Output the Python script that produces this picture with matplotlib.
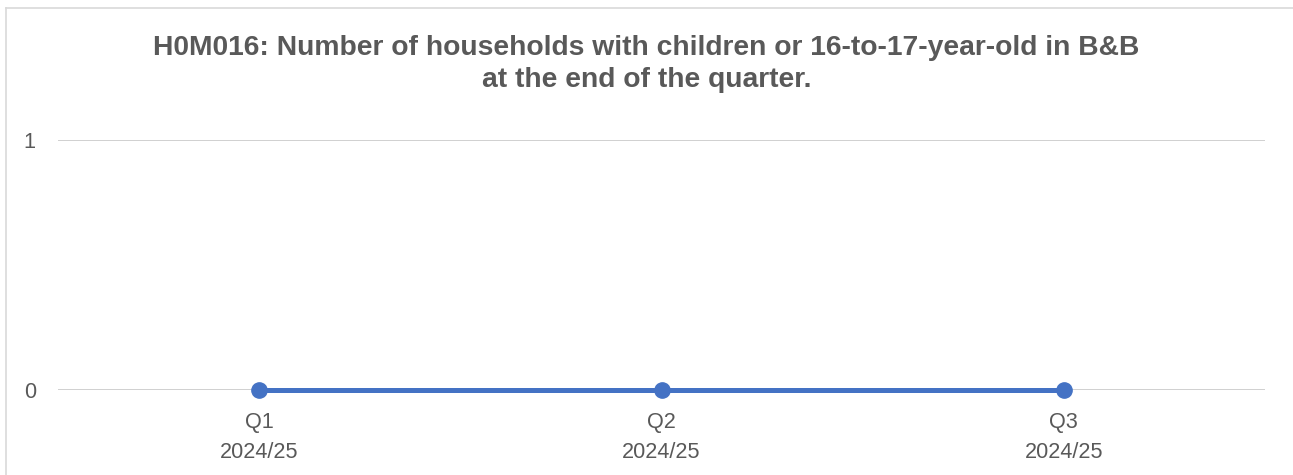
import matplotlib.pyplot as plt
from matplotlib.lines import Line2D

plt.rcParams['font.family'] = ['Liberation Sans', 'DejaVu Sans']

quarters = ["Q1\n2024/25", "Q2\n2024/25", "Q3\n2024/25"]
households = [0, 0, 0]
title = "H0M016: Number of households with children or 16-to-17-year-old in B&B\nat the end of the quarter."

W, H = 1293, 475
grey = "#595959"

fig = plt.figure(figsize=(W / 100, H / 100), dpi=100)
ax = fig.add_axes([58 / W, 1 - 390 / H, (1265 - 58) / W, (390 - 140) / H])

x = list(range(len(quarters)))
ax.plot(x, households, color="#4472C4", linewidth=3.6, marker="o",
        markersize=11, clip_on=False, zorder=3)

ax.set_xlim(-0.5, len(quarters) - 0.5)
ax.set_ylim(0, 1)
ax.set_yticks([0, 1])
ax.set_xticks(x)
ax.set_xticklabels(quarters, linespacing=1.55)
ax.grid(axis="y", color="#d0d0d0", linewidth=1.4)
ax.set_axisbelow(True)
for s in ax.spines.values():
    s.set_visible(False)
ax.tick_params(axis="both", length=0, labelsize=15.6, labelcolor=grey)
ax.tick_params(axis="x", pad=16)
ax.tick_params(axis="y", pad=16)

fig.text(0.5, 1 - 64 / H, title, ha="center", va="center", fontsize=20.3,
         fontweight="bold", color=grey, linespacing=1.3)

# chart border (only left and top edges visible in the crop)
fig.add_artist(Line2D([6 / W, 6 / W], [0, 1 - 8 / H], color="#d9d9d9", linewidth=1.2))
fig.add_artist(Line2D([6 / W, 1], [1 - 8 / H, 1 - 8 / H], color="#d9d9d9", linewidth=1.2))

fig.savefig("out.png", dpi=100)
